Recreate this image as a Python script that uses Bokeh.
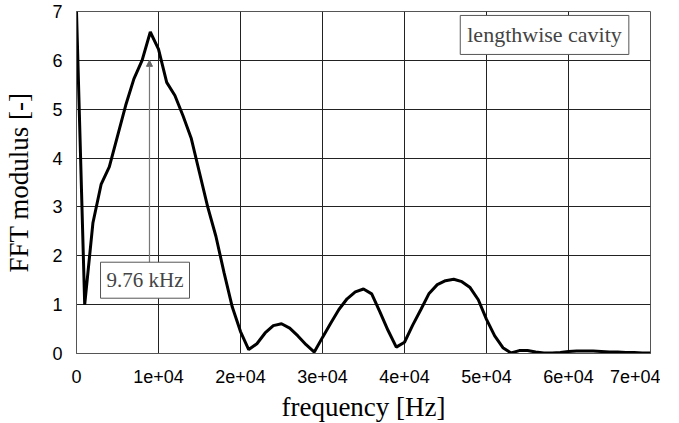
from bokeh.plotting import figure
from bokeh.models import FixedTicker, Label, Arrow, NormalHead, Range1d
from bokeh.embed import file_html
from bokeh.resources import INLINE

freq_hz = [0, 1000, 2000, 3000, 4000, 5000, 6000, 7000, 8000, 9000,
           10000, 11000, 12000, 13000, 14000, 15000, 16000, 17000, 18000, 19000,
           20000, 21000, 22000, 23000, 24000, 25000, 26000, 27000, 28000, 29000,
           30000, 31000, 32000, 33000, 34000, 35000, 36000, 37000, 38000, 39000,
           40000, 41000, 42000, 43000, 44000, 45000, 46000, 47000, 48000, 49000,
           50000, 51000, 52000, 53000, 54000, 55000, 56000, 57000, 58000, 59000,
           60000, 61000, 62000, 63000, 64000, 65000, 66000, 67000, 68000, 69000,
           70000]
fft_modulus = [7.0, 1.0, 2.67, 3.46, 3.82, 4.45, 5.08, 5.62, 6.0, 6.58,
               6.23, 5.55, 5.28, 4.86, 4.4, 3.7, 3.0, 2.4, 1.65, 0.95,
               0.45, 0.08, 0.2, 0.42, 0.57, 0.61, 0.52, 0.36, 0.18, 0.03,
               0.33, 0.62, 0.9, 1.12, 1.26, 1.32, 1.22, 0.85, 0.47, 0.13,
               0.23, 0.58, 0.9, 1.23, 1.41, 1.49, 1.52, 1.47, 1.35, 1.1,
               0.7, 0.36, 0.12, 0.01, 0.06, 0.06, 0.03, 0.01, 0.01, 0.02,
               0.04, 0.05, 0.05, 0.05, 0.04, 0.03, 0.03, 0.02, 0.02, 0.01,
               0.01]

x_ticks = [0, 10000, 20000, 30000, 40000, 50000, 60000, 70000]
x_tick_labels = ["0", "1e+04", "2e+04", "3e+04", "4e+04", "5e+04", "6e+04", "7e+04"]
y_ticks = [0, 1, 2, 3, 4, 5, 6, 7]

peak_label = "9.76 kHz"
case_label = "lengthwise cavity"

p = figure(width=660, height=415, output_backend="svg", toolbar_location=None,
           x_range=Range1d(0, 70000), y_range=Range1d(0, 7),
           min_border_left=76, min_border_right=10, min_border_top=11, min_border_bottom=62)
p.frame_width = 574
p.frame_height = 342

p.line(freq_hz, fft_modulus, line_color="black", line_width=3)

# arrow to peak
peak_i = fft_modulus.index(max(fft_modulus[2:]))
p.add_layout(Arrow(end=NormalHead(size=6, line_color="#666666", fill_color="#666666", line_width=1),
                   x_start=freq_hz[peak_i] - 100, y_start=1.86,
                   x_end=freq_hz[peak_i] - 100, y_end=6.0,
                   line_color="#777777", line_width=1.2))

serif = "Liberation Serif"
p.add_layout(Label(x=2930, y=1.5, text=peak_label, text_font=serif, text_font_size="21px",
                   text_baseline="middle", text_align="left",
                   border_line_color="#555555", border_line_width=1,
                   background_fill_color="white", padding=6))
p.add_layout(Label(x=46800, y=6.52, text=case_label, text_font=serif, text_font_size="22px",
                   text_baseline="middle", text_align="left",
                   border_line_color="#555555", border_line_width=1,
                   background_fill_color="white", padding=7))

for ax in (p.xaxis, p.yaxis):
    ax.major_label_text_font = "Liberation Sans"
    ax.major_label_text_font_size = "18px"
    ax.major_label_text_color = "black"
    ax.major_tick_in = 0
    ax.major_tick_out = 0
    ax.minor_tick_in = 0
    ax.minor_tick_out = 0
    ax.axis_line_color = "#555555"
    ax.axis_label_text_font = serif
    ax.axis_label_text_font_size = "27px"
    ax.axis_label_text_font_style = "normal"
    ax.axis_label_text_color = "black"

p.xaxis.ticker = FixedTicker(ticks=x_ticks)
p.xaxis.major_label_overrides = {t: l for t, l in zip(x_ticks, x_tick_labels)}
p.yaxis.ticker = FixedTicker(ticks=y_ticks)
p.xaxis.axis_label = "frequency [Hz]"
p.yaxis.axis_label = "FFT modulus [-]"
p.xaxis.major_label_standoff = 16
p.yaxis.major_label_standoff = 14
p.xaxis.axis_label_standoff = 6
p.yaxis.axis_label_standoff = 15

p.xgrid.grid_line_color = "#222222"
p.ygrid.grid_line_color = "#222222"
p.xgrid.grid_line_alpha = 1
p.ygrid.grid_line_alpha = 1
p.outline_line_color = "#555555"
p.outline_line_width = 1

open("out.html", "w").write(file_html(p, INLINE))
